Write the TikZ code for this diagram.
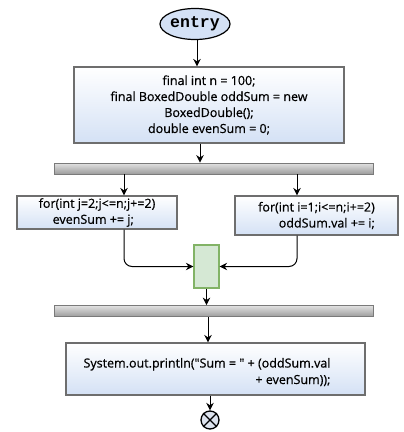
\documentclass[tikz,border=0pt]{standalone}
\usepackage{fontspec}
\setmainfont{Open Sans}
\setmonofont{Liberation Mono}
\newfontfamily\codefont{Open Sans}[Ligatures=TeXOff,FakeBold=0.6]
\usetikzlibrary{arrows.meta,shapes.geometric}

\definecolor{boxblue}{HTML}{D4E1F5}
\definecolor{boxline}{HTML}{6E6E6E}
\definecolor{bartop}{HTML}{E2E2E2}
\definecolor{barbot}{HTML}{9C9C9C}
\definecolor{barline}{HTML}{7A7A7A}
\definecolor{joinfill}{HTML}{D5E8D4}
\definecolor{joinline}{HTML}{82B366}
\definecolor{endfill}{HTML}{DDE3EE}

\begin{document}
\begin{tikzpicture}[x=1pt,y=1pt,
  codebox/.style={rectangle,draw=boxline,line width=1.1pt,top color=white,bottom color=boxblue,
    inner sep=0pt,font=\codefont\fontsize{12.5}{16}\selectfont,align=center},
  codetext/.style={font=\codefont\fontsize{12.5}{16.5}\selectfont,inner sep=0pt},
  syncbar/.style={rectangle,draw=barline,line width=0.8pt,top color=bartop,bottom color=barbot,
    minimum width=319pt,minimum height=11pt,inner sep=0pt},
  flow/.style={line width=1pt,-{Stealth[length=7.5pt,width=7.5pt]}},
]
\useasboundingbox (0,0) rectangle (404,-432);

% columns used by the fork and join connectors
\coordinate (lcol) at (124,0);
\coordinate (rcol) at (297,0);
\coordinate (mcol) at (208,0);

% start node
\node[ellipse,draw,line width=1.2pt,fill=boxblue,minimum width=64pt,minimum height=31pt,inner sep=0pt,
  font=\ttfamily\bfseries\fontsize{16.5}{16.5}\selectfont] (entry) at (195,-24) {entry};

% declarations
\node[codebox,minimum width=270pt,minimum height=76pt] (init) at (209,-105)
  {final int n = 100;\\final BoxedDouble oddSum = new\\BoxedDouble();\\double evenSum = 0;};

% fork bar
\node[syncbar] (fork) at (213.5,-168.5) {};

% the two loops
\node[codebox,minimum width=160pt,minimum height=33pt,align=left] (evenloop) at (97,-212.5)
  {for(int j=2;j<=n;j+=2)\\\hspace*{14pt}evenSum += j;};
\node[codebox,minimum width=163pt,minimum height=39pt,align=right] (oddloop) at (316.5,-215.5)
  {for(int i=1;i<=n;i+=2)\\oddSum.val += i;};

% join point
\node[rectangle,draw=joinline,fill=joinfill,line width=1.2pt,minimum width=25pt,minimum height=43pt,
  inner sep=0pt] (join) at (206.5,-266.5) {};

% second bar
\node[syncbar] (merge) at (213.5,-311) {};

% output statement
\node[codebox,minimum width=299pt,minimum height=52pt] (print) at (215.5,-369) {};
\node[codetext,align=right] (printtext) at (207,-372)
  {System.out.println("Sum = " + (oddSum.val\\+ evenSum));};

% end node
\node[circle,draw,line width=1.3pt,fill=endfill,minimum size=18pt,inner sep=0pt] (done) at (210,-420) {};
\draw[line width=1.3pt] (done.north east) -- (done.south west)
                        (done.north west) -- (done.south east);

% connectors
\draw[flow] (entry.south) ++(2,0) coordinate (entryout) -- (entryout |- init.north);
\draw[flow] (init.south -| entry.south) ++(5,0) coordinate (initout) -- (initout |- fork.north);
\draw[flow] (fork.south -| lcol) -- (evenloop.north -| lcol);
\draw[flow] (fork.south -| rcol) -- (oddloop.north -| rcol);
\draw[flow,rounded corners=8pt] (evenloop.south -| lcol) |- (join.west);
\draw[flow,rounded corners=8pt] (oddloop.south -| rcol) |- (join.east);
\draw[flow] (join.south) -- (join.south |- merge.north);
\draw[flow] (merge.south -| mcol) -- (print.north -| mcol);
\draw[flow] (print.south -| done.north) -- (done.north);
\end{tikzpicture}
\end{document}
